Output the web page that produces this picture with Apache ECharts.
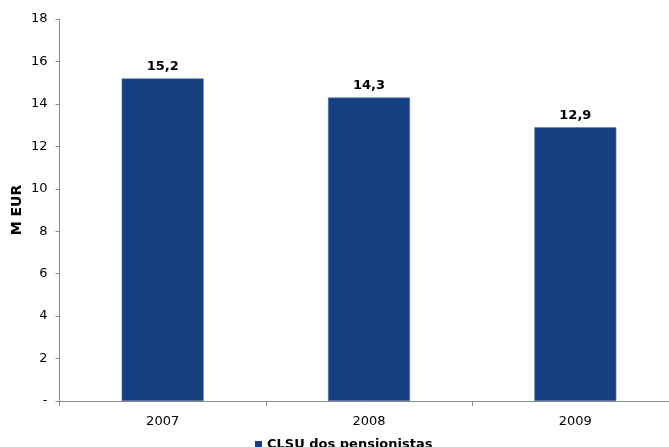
<!DOCTYPE html>
<html><head><meta charset="utf-8">
<script src="https://cdn.jsdelivr.net/npm/echarts@6/dist/echarts.min.js"></script>
<style>html,body{margin:0;padding:0;background:#fff}#c{width:669px;height:447px}</style>
</head><body><div id="c"></div>
<script>
const categories = ['2007', '2008', '2009'];
const values = [15.2, 14.3, 12.9];
const seriesName = 'CLSU dos pensionistas';
const yTicks = [0, 2, 4, 6, 8, 10, 12, 14, 16, 18];

const chart = echarts.init(document.getElementById('c'), null, {renderer: 'canvas'});
const font = 'DejaVu Sans, Verdana, sans-serif';
chart.setOption({
  animation: false,
  textStyle: {fontFamily: font},
  grid: {left: 59.5, top: 19, width: 619, height: 382, outerBoundsMode: 'none'},
  legend: {
    data: [seriesName], top: 438, left: 255, padding: 0,
    icon: 'rect', itemWidth: 7, itemHeight: 7, itemGap: 4,
    itemStyle: {borderWidth: 0},
    textStyle: {fontFamily: font, fontWeight: 'bold', fontSize: 13, color: '#000'}
  },
  xAxis: {
    type: 'category', data: categories,
    axisLine: {lineStyle: {color: '#8c8c8c'}},
    axisTick: {show: true, length: 5, lineStyle: {color: '#8c8c8c'}},
    axisLabel: {color: '#000', fontSize: 13, fontFamily: font, margin: 14}
  },
  yAxis: {
    type: 'value', min: 0, max: 18, interval: 2,
    name: 'M EUR', nameLocation: 'middle', nameGap: 35, nameMoveOverlap: false,
    nameTextStyle: {fontFamily: font, fontWeight: 'bold', fontSize: 14, color: '#000'},
    axisLine: {show: true, lineStyle: {color: '#8c8c8c'}},
    axisTick: {show: true, length: 4, lineStyle: {color: '#8c8c8c'}},
    splitLine: {show: false},
    axisLabel: {color: '#000', fontSize: 13, fontFamily: font, margin: 12,
      formatter: v => (v === 0 ? '-' : (yTicks.includes(v) ? String(v) : ''))}
  },
  series: [{
    name: seriesName, type: 'bar', data: values, barWidth: 82,
    itemStyle: {color: '#153F80', borderColor: '#5a77a6', borderWidth: 0.6},
    label: {show: true, position: 'top', distance: 5, color: '#000', fontWeight: 'bold',
      fontSize: 13, fontFamily: font, formatter: p => p.value.toFixed(1).replace('.', ',')}
  }]
});
</script></body></html>
